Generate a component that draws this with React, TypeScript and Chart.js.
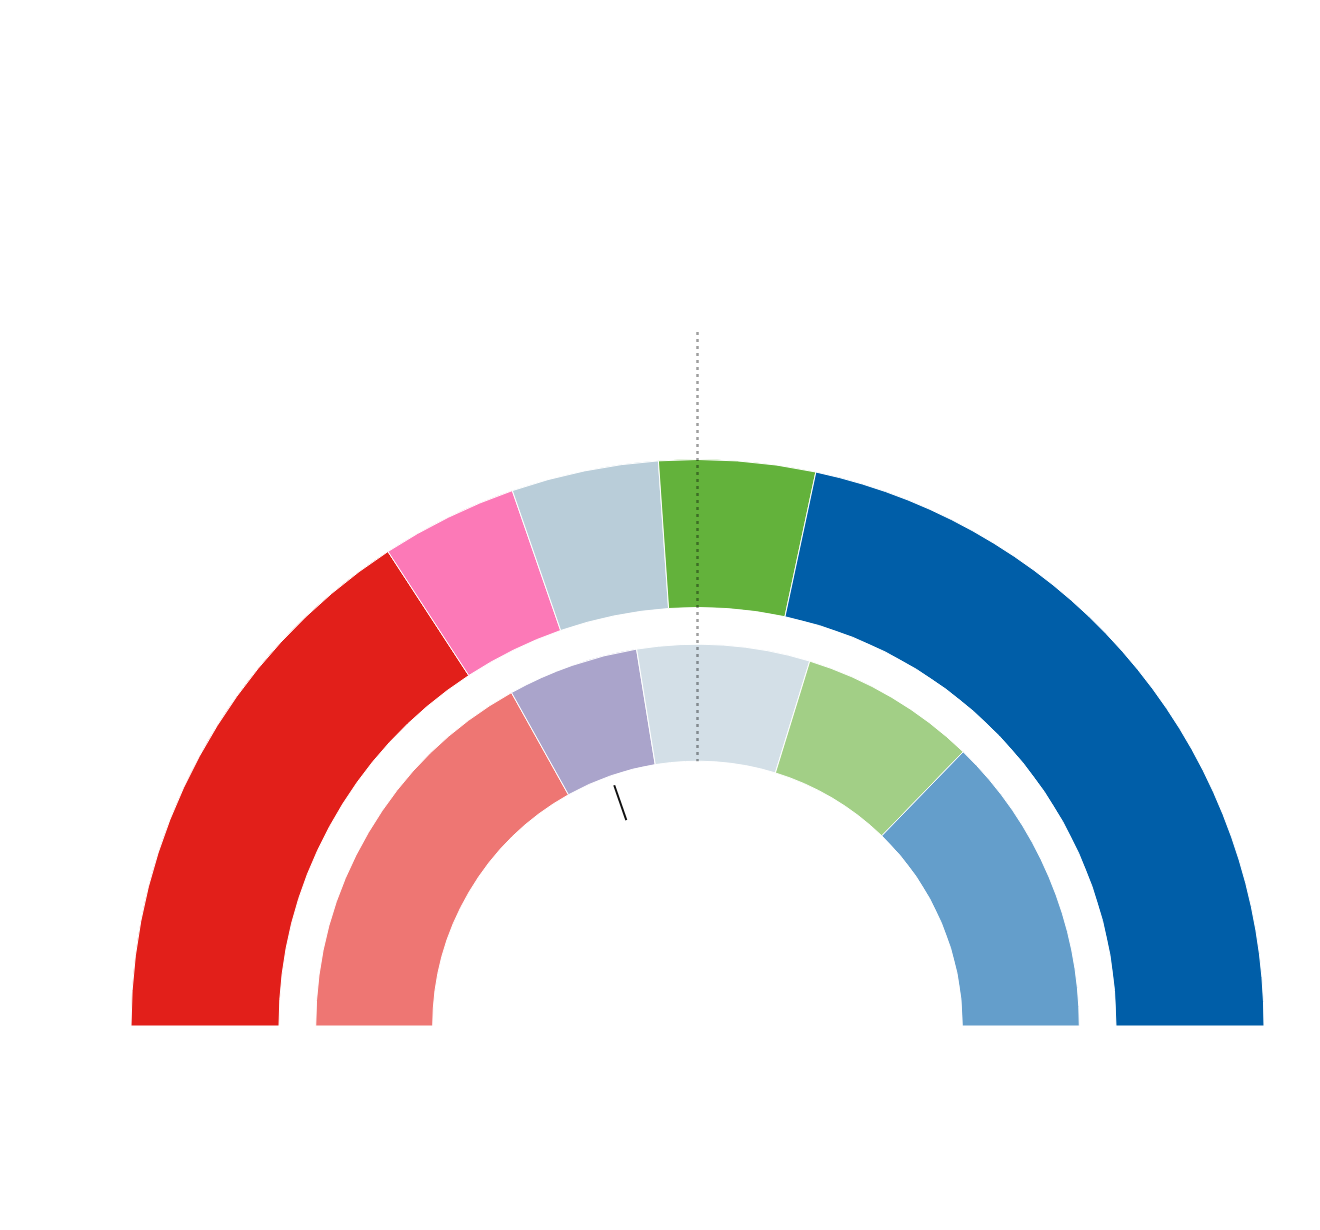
import React, { useEffect, useRef } from "react";
import { Chart, registerables } from "chart.js";

Chart.register(...registerables);

// Data (share of the half circle, in %)
const parties = ["Partido 1", "Partido 2", "Partido 3", "Partido 4", "Partido 5"];
const currentShare = [31.6, 7.8, 8.4, 8.9, 43.3];
const previousShare = [33.8, 11.1, 14.6, 15.0, 25.5];
const currentColors = ["#e21f1a", "#fc79b7", "#b9cdd9", "#63b23b", "#005ea8"];
const previousColors = ["#ee7673", "#aaa4cb", "#d3dfe7", "#a2cf86", "#649ecb"];
const majorityShare = 50;
const leftBlocCount = 2;

const overlayPlugin = {
  id: "overlay",
  afterDatasetsDraw(chart: any) {
    const outerArc = chart.getDatasetMeta(0).data[0];
    const innerArc = chart.getDatasetMeta(2).data[0];
    if (!outerArc || !innerArc) return;
    const cx = outerArc.x;
    const cy = outerArc.y;
    const ctx = chart.ctx;

    // majority dotted line
    const totalCur = currentShare.reduce((a, b) => a + b, 0);
    const am = Math.PI + (Math.PI * majorityShare) / 100;
    const r0 = innerArc.innerRadius;
    const r1 = outerArc.outerRadius * 1.225;
    ctx.save();
    ctx.strokeStyle = "rgba(0,0,0,0.38)";
    ctx.lineWidth = 2.5;
    ctx.setLineDash([3, 4]);
    ctx.beginPath();
    ctx.moveTo(cx + r1 * Math.cos(am), cy + r1 * Math.sin(am));
    ctx.lineTo(cx + r0 * Math.cos(am), cy + r0 * Math.sin(am));
    ctx.stroke();
    ctx.restore();

    // left bloc tick
    const cum = currentShare.slice(0, leftBlocCount).reduce((a, b) => a + b, 0);
    const at = Math.PI + (Math.PI * cum) / totalCur;
    const t0 = innerArc.innerRadius - 10;
    const t1 = innerArc.innerRadius - 47;
    ctx.save();
    ctx.strokeStyle = "#111";
    ctx.lineWidth = 2;
    ctx.beginPath();
    ctx.moveTo(cx + t0 * Math.cos(at), cy + t0 * Math.sin(at));
    ctx.lineTo(cx + t1 * Math.cos(at), cy + t1 * Math.sin(at));
    ctx.stroke();
    ctx.restore();
  },
};

export default function App() {
  const ref = useRef<HTMLCanvasElement>(null);
  useEffect(() => {
    if (!ref.current) return;
    const chart = new Chart(ref.current, {
      type: "doughnut",
      data: {
        labels: parties,
        datasets: [
          {
            data: currentShare,
            backgroundColor: currentColors,
            borderColor: "#ffffff",
            borderWidth: 1,
            weight: 148,
          } as any,
          {
            data: [100],
            backgroundColor: "rgba(0,0,0,0)",
            borderWidth: 0,
            weight: 36.7,
          } as any,
          {
            data: previousShare,
            backgroundColor: previousColors,
            borderColor: "#ffffff",
            borderWidth: 1,
            weight: 117,
          } as any,
        ],
      },
      options: {
        responsive: false,
        animation: false,
        rotation: -90,
        circumference: 180,
        radius: 566.5,
        cutout: "46.74%",
        hoverOffset: 0,
        offset: 0,
        layout: { padding: { left: 75, right: 0, top: 255.5, bottom: 0 } },
        plugins: {
          legend: { display: false },
          tooltip: { enabled: false },
          title: { display: false },
        },
        events: [],
      } as any,
      plugins: [overlayPlugin],
    });
    return () => chart.destroy();
  }, []);
  return (
    <div style={{ width: 1304, height: 1214 }}>
      <canvas ref={ref} width={1304} height={1214} style={{ display: "block" }} />
    </div>
  );
}
